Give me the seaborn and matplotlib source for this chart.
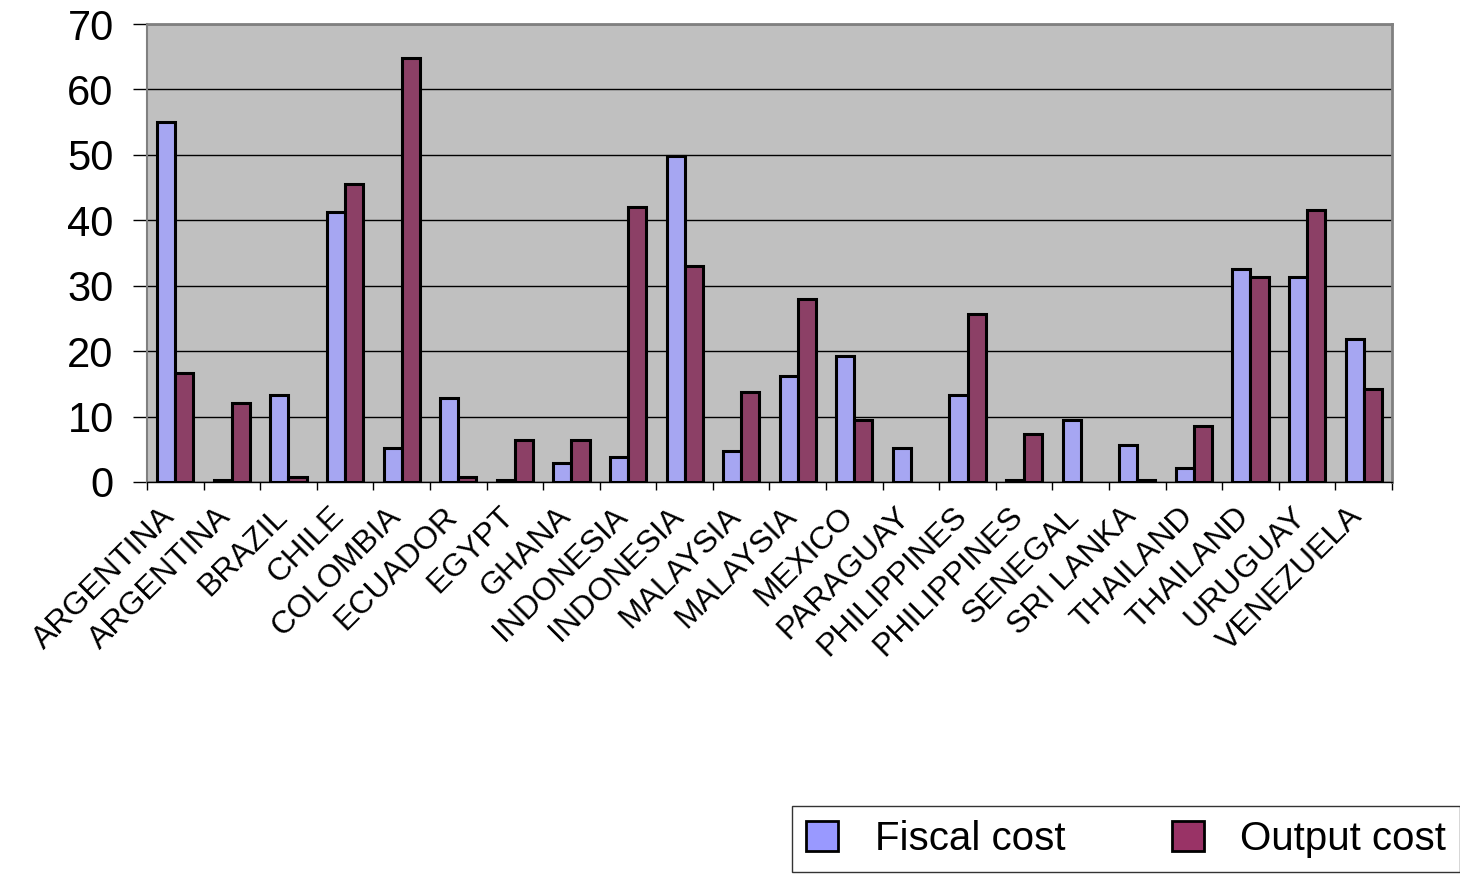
import matplotlib
matplotlib.use("Agg")
import matplotlib.pyplot as plt
import matplotlib.transforms as mtransforms
from matplotlib.patches import Patch
import seaborn as sns
import pandas as pd

countries = ["ARGENTINA", "ARGENTINA", "BRAZIL", "CHILE", "COLOMBIA", "ECUADOR",
             "EGYPT", "GHANA", "INDONESIA", "INDONESIA", "MALAYSIA", "MALAYSIA",
             "MEXICO", "PARAGUAY", "PHILIPPINES", "PHILIPPINES", "SENEGAL",
             "SRI LANKA", "THAILAND", "THAILAND", "URUGUAY", "VENEZUELA"]
fiscal_cost = [55, 0.3, 13.3, 41.3, 5.2, 12.8, 0.3, 2.9, 3.8, 49.8, 4.7, 16.2,
               19.3, 5.2, 13.3, 0.3, 9.5, 5.7, 2.1, 32.6, 31.3, 21.9]
output_cost = [16.7, 12, 0.8, 45.5, 64.8, 0.8, 6.4, 6.4, 42, 33, 13.8, 28,
               9.5, 0, 25.7, 7.3, 0, 0.3, 8.6, 31.3, 41.6, 14.2]
series = ["Fiscal cost", "Output cost"]
colors = ["#9999FF", "#993366"]

df = pd.DataFrame({
    "pos": list(range(len(countries))) * 2,
    "value": fiscal_cost + output_cost,
    "series": [series[0]] * len(countries) + [series[1]] * len(countries),
})
# zero entries have no bar at all in the original
df.loc[df["value"] == 0, "value"] = float("nan")

sns.set_style("white")
plt.rcParams["font.family"] = ["Liberation Sans", "DejaVu Sans"]
plt.rcParams["text.color"] = "black"
plt.rcParams["xtick.color"] = "black"
plt.rcParams["ytick.color"] = "black"

fig = plt.figure(figsize=(14.6, 8.8), dpi=100)
ax = fig.add_axes([0.1007, 0.4523, 0.8527, 0.5204])
ax.set_facecolor("#C0C0C0")

sns.barplot(data=df, x="pos", y="value", hue="series", palette=colors,
            width=0.64, edgecolor="black", linewidth=2.2, ax=ax,
            legend=False, errorbar=None)

ax.set_ylim(0, 70)
ax.set_xlim(-0.5, len(countries) - 0.5)
ax.set_yticks(range(0, 71, 10))
ax.tick_params(axis="y", labelsize=30, length=10, width=1, direction="out",
               color="black", labelcolor="black", left=True, pad=14)
ax.yaxis.grid(True, color="black", linewidth=1)
ax.set_axisbelow(True)

# ticks sit between categories, labels sit at category centres
ax.set_xticks([i - 0.5 for i in range(len(countries) + 1)])
ax.set_xticklabels([])
ax.tick_params(axis="x", which="major", length=6, width=1, direction="out",
               color="black", bottom=True)
ax.set_xticks(range(len(countries)), minor=True)
ax.set_xticklabels(countries, minor=True, rotation=45, ha="right", va="top",
                   rotation_mode="anchor", fontsize=23, color="black")
ax.tick_params(axis="x", which="minor", length=0, pad=14)
shift = mtransforms.ScaledTranslation(-0.16, 0, fig.dpi_scale_trans)
for lbl in ax.get_xticklabels(minor=True):
    lbl.set_transform(lbl.get_transform() + shift)

ax.set_xlabel("")
ax.set_ylabel("")
for side in ["top", "right"]:
    ax.spines[side].set_color("#808080")
    ax.spines[side].set_linewidth(2)
ax.spines["left"].set_color("#808080")
ax.spines["left"].set_linewidth(1.5)
ax.spines["bottom"].set_color("black")
ax.spines["bottom"].set_linewidth(1)

handles = [Patch(facecolor=c, edgecolor="black", linewidth=2, label=s)
           for c, s in zip(colors, series)]
leg = fig.legend(handles=handles, loc="lower left",
                 bbox_to_anchor=(792 / 1460, 8 / 880, 668 / 1460, 67 / 880),
                 mode="expand", borderaxespad=0, ncol=2, fontsize=29,
                 frameon=True, fancybox=False, edgecolor="black",
                 handlelength=0.8, handleheight=0.8, columnspacing=1.8,
                 handletextpad=0.9, borderpad=0.35)
leg.get_frame().set_linewidth(1)

fig.savefig("out.png", dpi=100, facecolor="white")
